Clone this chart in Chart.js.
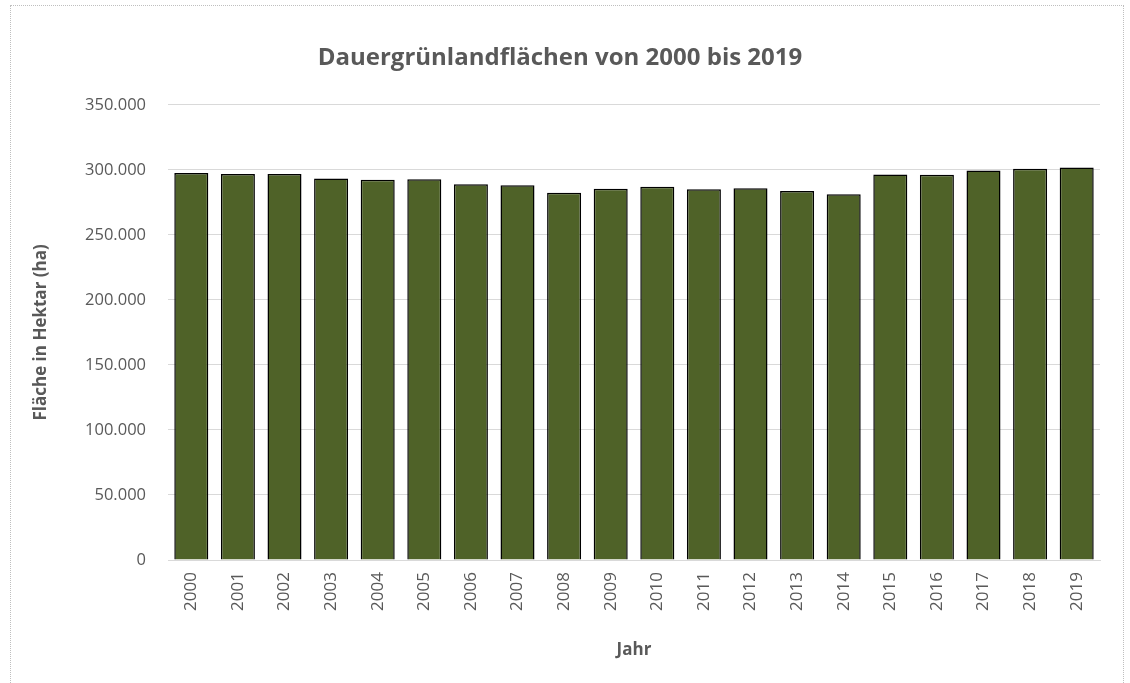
<!DOCTYPE html>
<html>
<head>
<meta charset="utf-8">
<script src="https://cdn.jsdelivr.net/npm/chart.js@4.4.1/dist/chart.umd.min.js"></script>
<style>
  html, body { margin: 0; padding: 0; background: #fff; }
  #wrap { position: relative; width: 1130px; height: 683px; }
  #frame {
    position: absolute; left: 10px; top: 5px; width: 1112px; height: 700px;
    border: 1px dotted #bfbfbf; pointer-events: none;
  }
</style>
</head>
<body>
<div id="wrap">
  <canvas id="chart" width="1130" height="683"></canvas>
  <div id="frame"></div>
</div>
<script>
const years = ['2000', '2001', '2002', '2003', '2004', '2005', '2006', '2007', '2008', '2009',
               '2010', '2011', '2012', '2013', '2014', '2015', '2016', '2017', '2018', '2019'];
const flaeche = [297500, 296700, 296700, 293300, 292300, 292800, 289000, 288200, 282300, 285400,
                 286900, 285100, 285900, 283800, 281300, 296400, 296200, 299500, 300800, 301800];
const yTicks = [0, 50000, 100000, 150000, 200000, 250000, 300000, 350000];

const textGray = '#595959';
const fontName = "'Open Sans', 'Liberation Sans', sans-serif";

// Tausenderpunkt wie im Original
function fmt(v) {
    return String(v).replace(/\B(?=(\d{3})+(?!\d))/g, '.');
}

new Chart(document.getElementById('chart'), {
    type: 'bar',
    data: {
        labels: years,
        datasets: [{
            label: 'Fläche',
            data: flaeche,
            backgroundColor: '#4f6228',
            borderColor: '#000000',
            borderWidth: 1.5,
            categoryPercentage: 1.0,
            barPercentage: 0.73
        }]
    },
    options: {
        responsive: false,
        animation: false,
        layout: { padding: { left: 20, right: 30, top: 0, bottom: 20 } },
        plugins: {
            legend: { display: false },
            tooltip: { enabled: false },
            title: {
                display: true,
                text: 'Dauergrünlandflächen von 2000 bis 2019',
                color: textGray,
                font: { family: fontName, size: 24, weight: 'bold', lineHeight: 1.2 },
                padding: { top: 44, bottom: 32 }
            }
        },
        scales: {
            x: {
                grid: { display: false, drawTicks: false },
                border: { color: '#d9d9d9', width: 1 },
                ticks: {
                    color: textGray,
                    font: { family: fontName, size: 17 },
                    minRotation: 90,
                    maxRotation: 90,
                    padding: 12
                },
                title: {
                    display: true,
                    text: 'Jahr',
                    color: textGray,
                    font: { family: fontName, size: 17, weight: 'bold', lineHeight: 1.2 },
                    padding: 3
                },
                afterFit: (scale) => { scale.height = 103; }
            },
            y: {
                min: 0,
                max: 350000,
                afterBuildTicks: (scale) => {
                    scale.ticks = yTicks.map(v => ({ value: v }));
                },
                grid: { color: '#d9d9d9', drawTicks: false },
                border: { display: false },
                ticks: {
                    color: textGray,
                    font: { family: fontName, size: 16.5 },
                    padding: 22,
                    callback: (v) => fmt(v)
                },
                title: {
                    display: true,
                    text: 'Fläche in Hektar (ha)',
                    color: textGray,
                    font: { family: fontName, size: 17, weight: 'bold', lineHeight: 1.2 },
                    padding: 11
                },
                afterFit: (scale) => { scale.width = 148; }
            }
        }
    }
});
</script>
</body>
</html>
